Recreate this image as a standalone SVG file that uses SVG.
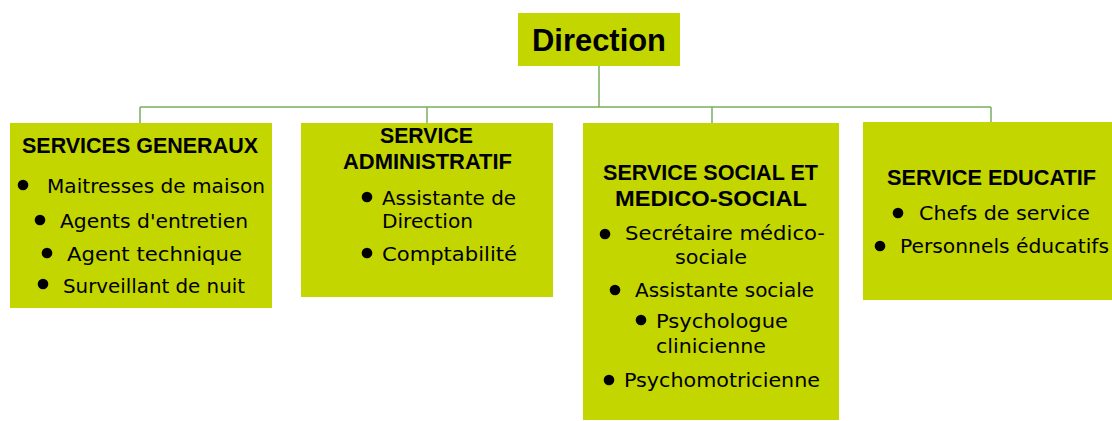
<svg xmlns="http://www.w3.org/2000/svg" width="1112" height="421" viewBox="0 0 1112 421">
<style>
.box{fill:#C3D600}
.conn{stroke:#7AAE5E;stroke-width:1.5;fill:none}
.title{font-family:"Liberation Sans",Arial,sans-serif;font-weight:bold;font-size:22.5px;fill:#000}
.item{font-family:"DejaVu Sans","Liberation Sans",sans-serif;font-size:19.5px;fill:#000}
.dot{fill:#000}
</style>
<rect width="1112" height="421" fill="#fff"/>
<g id="connectors">
<path class="conn" d="M599,66 V107 M140,107 H991 M140,107 V123 M427,107 V123 M712,107 V123 M991,107 V122"/>
</g>
<g id="direction">
<rect class="box" x="518" y="13" width="162" height="53"/>
<text x="599" y="51" text-anchor="middle" font-family="Liberation Sans,Arial,sans-serif" font-weight="bold" font-size="32" textLength="134" lengthAdjust="spacingAndGlyphs">Direction</text>
</g>
<g id="services-generaux">
<rect class="box" x="10" y="123" width="262" height="185"/>
<text class="title" x="22" y="153" textLength="236" lengthAdjust="spacingAndGlyphs">SERVICES GENERAUX</text>
<circle class="dot" cx="23" cy="185" r="5.3"/>
<text class="item" x="47" y="192.5" textLength="218" lengthAdjust="spacingAndGlyphs">Maitresses de maison</text>
<circle class="dot" cx="40" cy="220" r="5.3"/>
<text class="item" x="60" y="227.5" textLength="188" lengthAdjust="spacingAndGlyphs">Agents d'entretien</text>
<circle class="dot" cx="47" cy="253" r="5.3"/>
<text class="item" x="67" y="261" textLength="175" lengthAdjust="spacingAndGlyphs">Agent technique</text>
<circle class="dot" cx="43" cy="284" r="5.3"/>
<text class="item" x="63" y="293" textLength="182" lengthAdjust="spacingAndGlyphs">Surveillant de nuit</text>
</g>
<g id="service-administratif">
<rect class="box" x="301" y="123" width="252" height="174"/>
<text class="title" x="380" y="143" textLength="93" lengthAdjust="spacingAndGlyphs">SERVICE</text>
<text class="title" x="343" y="169" textLength="169" lengthAdjust="spacingAndGlyphs">ADMINISTRATIF</text>
<circle class="dot" cx="367" cy="197" r="5.3"/>
<text class="item" x="382" y="205" textLength="134" lengthAdjust="spacingAndGlyphs">Assistante de</text>
<text class="item" x="382" y="228" textLength="91" lengthAdjust="spacingAndGlyphs">Direction</text>
<circle class="dot" cx="367" cy="253" r="5.3"/>
<text class="item" x="382" y="261" textLength="135" lengthAdjust="spacingAndGlyphs">Comptabilité</text>
</g>
<g id="service-social">
<rect class="box" x="583" y="123" width="256" height="297"/>
<text class="title" x="603" y="180" textLength="215" lengthAdjust="spacingAndGlyphs">SERVICE SOCIAL ET</text>
<text class="title" x="615" y="206" textLength="192" lengthAdjust="spacingAndGlyphs">MEDICO-SOCIAL</text>
<circle class="dot" cx="605" cy="234" r="5.3"/>
<text class="item" x="625" y="240" textLength="200" lengthAdjust="spacingAndGlyphs">Secrétaire médico-</text>
<text class="item" x="675" y="264" textLength="72" lengthAdjust="spacingAndGlyphs">sociale</text>
<circle class="dot" cx="615" cy="290" r="5.3"/>
<text class="item" x="635" y="297" textLength="179" lengthAdjust="spacingAndGlyphs">Assistante sociale</text>
<circle class="dot" cx="641" cy="320" r="5.3"/>
<text class="item" x="656" y="328" textLength="132" lengthAdjust="spacingAndGlyphs">Psychologue</text>
<text class="item" x="656" y="353" textLength="110" lengthAdjust="spacingAndGlyphs">clinicienne</text>
<circle class="dot" cx="609" cy="380" r="5.3"/>
<text class="item" x="624" y="387" textLength="196" lengthAdjust="spacingAndGlyphs">Psychomotricienne</text>
</g>
<g id="service-educatif">
<rect class="box" x="863" y="122" width="249" height="178"/>
<text class="title" x="887" y="185" textLength="209" lengthAdjust="spacingAndGlyphs">SERVICE EDUCATIF</text>
<circle class="dot" cx="898" cy="213" r="5.3"/>
<text class="item" x="919" y="220" textLength="171" lengthAdjust="spacingAndGlyphs">Chefs de service</text>
<circle class="dot" cx="880" cy="246" r="5.3"/>
<text class="item" x="900" y="253" textLength="209" lengthAdjust="spacingAndGlyphs">Personnels éducatifs</text>
</g>
</svg>
